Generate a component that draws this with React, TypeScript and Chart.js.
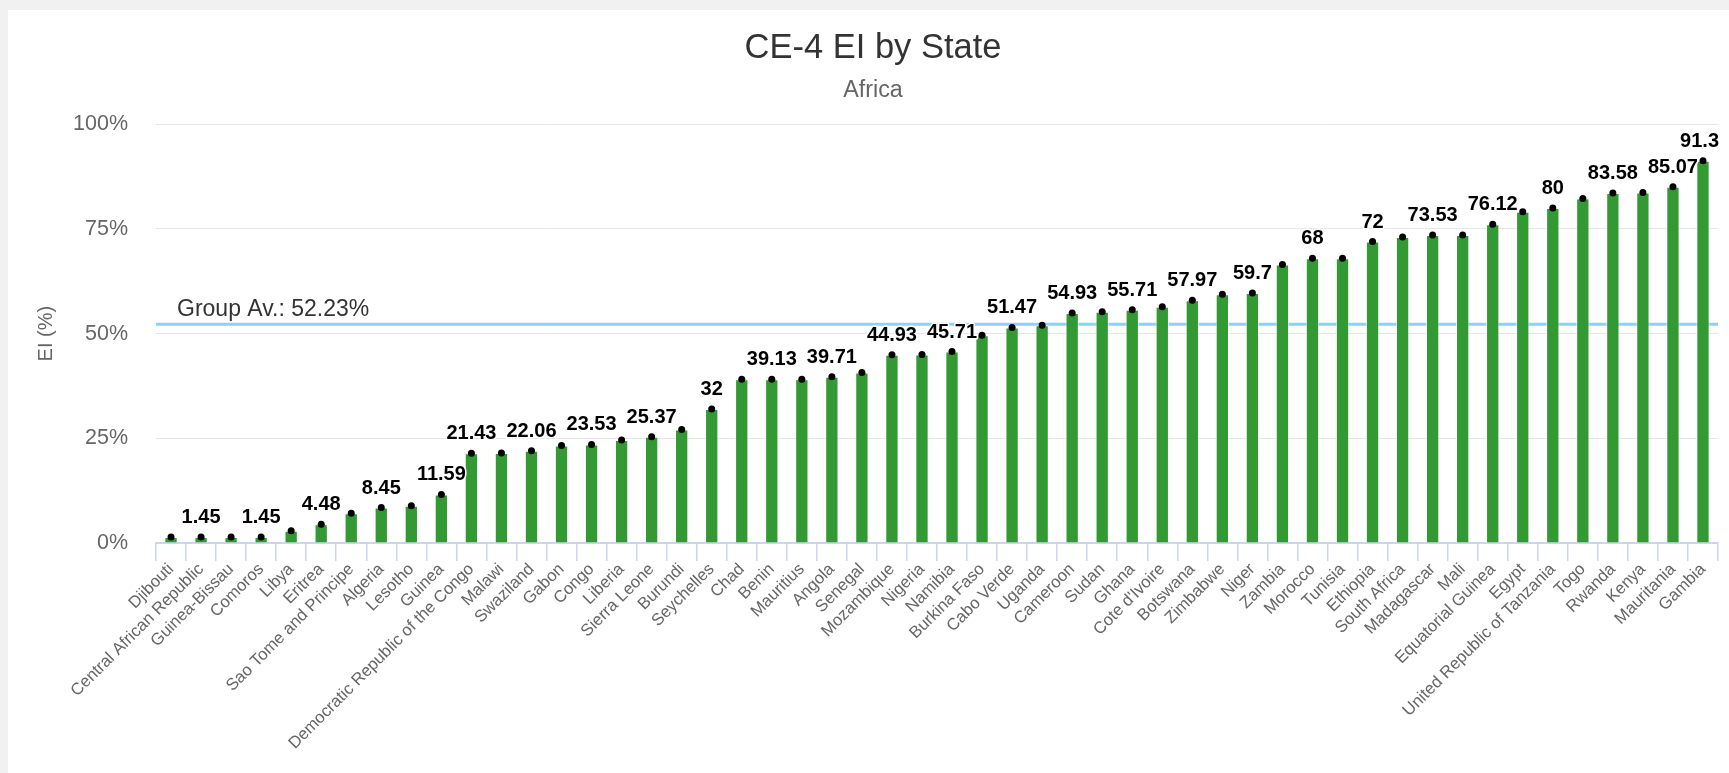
import React, { useEffect, useRef } from "react";
import { Chart, registerables } from "chart.js";

Chart.register(...registerables);

const FONT = "'Liberation Sans', Arial, sans-serif";

const titleText = "CE-4 EI by State";
const subtitleText = "Africa";
const yAxisTitle = "EI (%)";

const categories = [
  "Djibouti", "Central African Republic", "Guinea-Bissau", "Comoros", "Libya", "Eritrea",
  "Sao Tome and Principe", "Algeria", "Lesotho", "Guinea", "Democratic Republic of the Congo",
  "Malawi", "Swaziland", "Gabon", "Congo", "Liberia", "Sierra Leone", "Burundi", "Seychelles",
  "Chad", "Benin", "Mauritius", "Angola", "Senegal", "Mozambique", "Nigeria", "Namibia",
  "Burkina Faso", "Cabo Verde", "Uganda", "Cameroon", "Sudan", "Ghana", "Cote d'Ivoire",
  "Botswana", "Zimbabwe", "Niger", "Zambia", "Morocco", "Tunisia", "Ethiopia", "South Africa",
  "Madagascar", "Mali", "Equatorial Guinea", "Egypt", "United Republic of Tanzania", "Togo",
  "Rwanda", "Kenya", "Mauritania", "Gambia",
];

const eiValues = [
  1.45, 1.45, 1.45, 1.45, 2.9, 4.48,
  7.1, 8.45, 8.9, 11.59, 21.43,
  21.5, 22.06, 23.3, 23.53, 24.6, 25.37, 27.1, 32,
  39.13, 39.13, 39.13, 39.71, 40.7, 44.93, 45.0, 45.71,
  49.6, 51.47, 52.0, 54.93, 55.2, 55.71, 56.4,
  57.97, 59.4, 59.7, 66.5, 68, 68, 72, 73.1,
  73.53, 73.53, 76.12, 79.1, 80, 82.3,
  83.58, 83.7, 85.07, 91.3,
];

const groupAverage = 52.23;
const groupAverageLabel = "Group Av.: 52.23%";

const yTickValues = [0, 25, 50, 75, 100];

const avgLinePlugin = {
  id: "avgLine",
  beforeDatasetsDraw(chart: any) {
    const { ctx, chartArea, scales } = chart;
    const py = scales.y.getPixelForValue(groupAverage);
    ctx.save();
    ctx.strokeStyle = "#8fd1f5";
    ctx.lineWidth = 3;
    ctx.beginPath();
    ctx.moveTo(chartArea.left, py);
    ctx.lineTo(chartArea.right, py);
    ctx.stroke();
    ctx.font = `23px ${FONT}`;
    ctx.fillStyle = "#333333";
    ctx.textAlign = "left";
    ctx.textBaseline = "alphabetic";
    ctx.fillText(groupAverageLabel, chartArea.left + 21, py - 8);
    ctx.restore();
  },
};

const dataLabelPlugin = {
  id: "dataLabels",
  afterDatasetsDraw(chart: any) {
    const { ctx, chartArea, scales } = chart;
    const meta = chart.getDatasetMeta(1);
    ctx.save();
    ctx.font = `bold 20px ${FONT}`;
    const accepted: any[] = [];
    // taller bars get priority, overlapping labels are hidden
    const order = eiValues.map((v, i) => i).sort((a, b) => eiValues[b] - eiValues[a] || b - a);
    for (const i of order) {
      const bar = meta.data[i];
      if (!bar) continue;
      const text = String(eiValues[i]);
      const w = ctx.measureText(text).width;
      let cx = bar.x;
      const maxRight = chartArea.right + 1;
      if (cx + w / 2 > maxRight) cx = maxRight - w / 2;
      const bottom = scales.y.getPixelForValue(eiValues[i]) - 14;
      const box = { l: cx - w / 2 - 4.5, r: cx + w / 2 + 4.5, t: bottom - 23, b: bottom };
      const overlaps = accepted.some(
        (a) => a.l < box.r && box.l < a.r && a.t < box.b && box.t < a.b
      );
      if (overlaps) continue;
      accepted.push({ ...box, cx, text, bottom });
    }
    ctx.textAlign = "center";
    ctx.textBaseline = "alphabetic";
    ctx.lineJoin = "round";
    for (const a of accepted) {
      ctx.strokeStyle = "#ffffff";
      ctx.lineWidth = 3;
      ctx.strokeText(a.text, a.cx, a.bottom);
      ctx.fillStyle = "#000000";
      ctx.fillText(a.text, a.cx, a.bottom);
    }
    ctx.restore();
  },
};

export default function App() {
  const canvasRef = useRef<HTMLCanvasElement | null>(null);

  useEffect(() => {
    if (!canvasRef.current) return;
    const chart = new Chart(canvasRef.current, {
      type: "bar",
      data: {
        labels: categories,
        datasets: [
          {
            type: "line",
            label: "points",
            data: eiValues,
            showLine: false,
            pointRadius: 3.5,
            pointBackgroundColor: "#000000",
            pointBorderWidth: 0,
            order: 0,
          } as any,
          {
            type: "bar",
            label: "EI",
            data: eiValues,
            backgroundColor: "#339933",
            borderColor: "rgba(255,255,255,0.7)",
            borderWidth: 1,
            barPercentage: 0.443,
            categoryPercentage: 1,
            order: 1,
          },
        ],
      },
      options: {
        responsive: false,
        animation: false,
        devicePixelRatio: 1,
        events: [],
        layout: { padding: { left: 20, right: 11, top: 0, bottom: 0 } },
        plugins: {
          legend: { display: false },
          tooltip: { enabled: false },
          title: {
            display: true,
            text: titleText,
            color: "#333333",
            font: { size: 34.5, family: FONT, weight: "normal" },
            padding: { top: 17.6, bottom: 7.2 },
          },
          subtitle: {
            display: true,
            text: subtitleText,
            color: "#666666",
            font: { size: 23.3, family: FONT, weight: "normal" },
            padding: { top: 0, bottom: 20.1 },
          },
        },
        scales: {
          x: {
            type: "category",
            afterFit: (s: any) => {
              s.height = 230;
            },
            ticks: {
              autoSkip: false,
              maxRotation: 45,
              minRotation: 45,
              color: "#666666",
              font: { size: 16.7, family: FONT },
              padding: -1.5,
            },
            grid: {
              offset: true,
              drawOnChartArea: false,
              drawTicks: true,
              tickLength: 18,
              color: "#ccd6eb",
              lineWidth: 1.5,
            },
            border: { display: true, color: "#ccd6eb", width: 2 },
          },
          y: {
            min: 0,
            max: 100,
            afterFit: (s: any) => {
              s.width = 128;
            },
            afterBuildTicks: (s: any) => {
              s.ticks = yTickValues.map((v) => ({ value: v }));
            },
            ticks: {
              color: "#666666",
              font: { size: 21.5, family: FONT },
              padding: 28,
              callback: (v: any) => `${v}%`,
            },
            grid: { color: "#e6e6e6", lineWidth: 1, drawTicks: false },
            border: { display: false },
            title: {
              display: true,
              text: yAxisTitle,
              color: "#666666",
              font: { size: 20, family: FONT },
              padding: { top: 6.7, bottom: 0 },
            },
          },
        },
      },
      plugins: [avgLinePlugin, dataLabelPlugin],
    });
    return () => chart.destroy();
  }, []);

  return (
    <div
      style={{
        position: "fixed",
        left: 0,
        top: 0,
        width: 1729,
        height: 773,
        background: "#f1f1f1",
        overflow: "hidden",
      }}
    >
      <div
        style={{
          position: "absolute",
          left: 8,
          top: 10,
          width: 1721,
          height: 763,
          background: "#ffffff",
        }}
      >
        <canvas ref={canvasRef} width={1721} height={763} style={{ display: "block" }} />
      </div>
    </div>
  );
}
